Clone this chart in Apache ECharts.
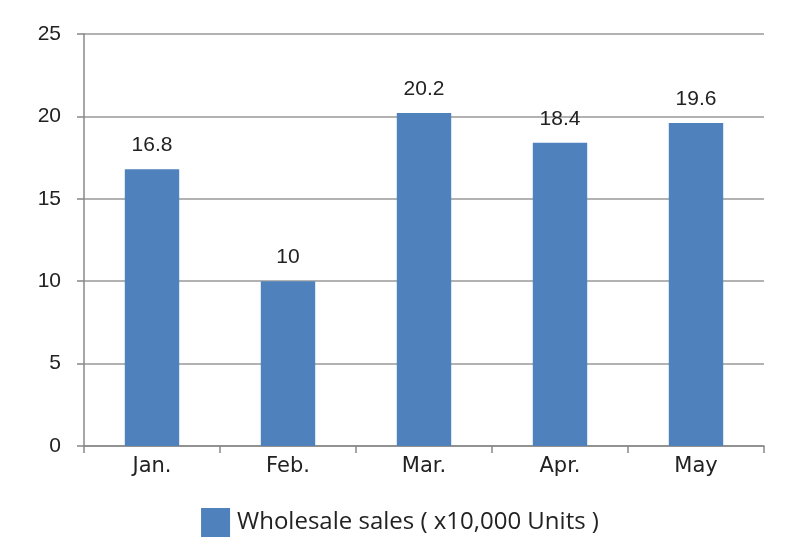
<!DOCTYPE html>
<html>
<head>
<meta charset="utf-8">
<script src="https://cdn.jsdelivr.net/npm/echarts@6/dist/echarts.min.js"></script>
<style>html,body{margin:0;padding:0;background:#fff}#c{width:800px;height:557px}</style>
</head>
<body>
<div id="c"></div>
<script>
var categories = ['Jan.', 'Feb.', 'Mar.', 'Apr.', 'May'];
var salesValues = [16.8, 10, 20.2, 18.4, 19.6];
var seriesName = 'Wholesale sales ( x10,000 Units )';

var chart = echarts.init(document.getElementById('c'), null, {renderer: 'canvas'});
chart.setOption({
  animation: false,
  backgroundColor: '#fff',
  grid: {left: 84, right: 36, top: 34, bottom: 111},
  legend: {
    bottom: 15, left: 'center',
    itemWidth: 29, itemHeight: 29, itemGap: 10,
    icon: 'rect',
    textStyle: {fontFamily: 'Open Sans', fontSize: 24, color: '#222', padding: [0, 0, 0, 2]},
    data: [seriesName]
  },
  xAxis: {
    type: 'category',
    data: categories,
    axisLine: {lineStyle: {color: '#888', width: 1.5}},
    axisTick: {show: true, length: 7, lineStyle: {color: '#888', width: 1.5}},
    axisLabel: {fontFamily: 'DejaVu Sans', fontSize: 21, color: '#222', margin: 10}
  },
  yAxis: {
    type: 'value', min: 0, max: 25, interval: 5,
    axisLine: {show: true, lineStyle: {color: '#888', width: 1.5}},
    axisTick: {show: true, length: 7, lineStyle: {color: '#888', width: 1.5}},
    splitLine: {lineStyle: {color: '#999', width: 1.5}},
    axisLabel: {fontFamily: 'Liberation Sans', fontSize: 21, color: '#222', margin: 23}
  },
  series: [{
    name: seriesName,
    type: 'bar',
    data: salesValues,
    barWidth: '40%',
    itemStyle: {color: '#4F81BD'},
    label: {show: true, position: 'top', distance: 13, fontFamily: 'Liberation Sans', fontSize: 21, color: '#222'}
  }]
});
</script>
</body>
</html>
